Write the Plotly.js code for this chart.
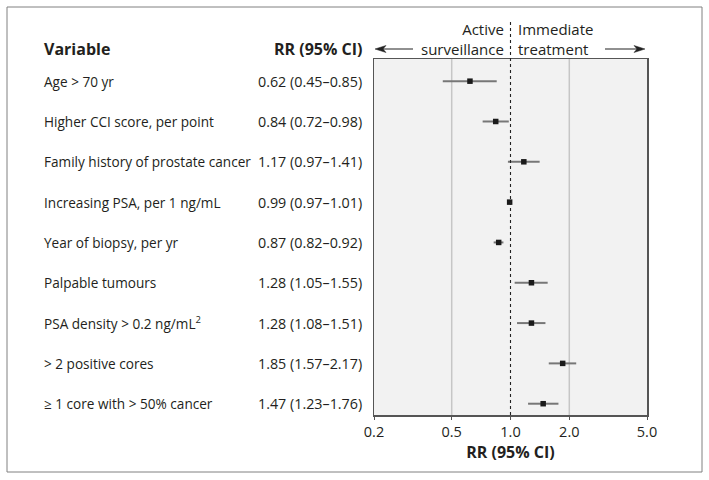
<!DOCTYPE html>
<html>
<head>
<meta charset="utf-8">
<script src="https://cdn.plot.ly/plotly-3.0.1.min.js"></script>
<style>html,body{margin:0;padding:0;background:#fff;}#chart{width:709px;height:480px;}</style>
</head>
<body>
<div id="chart"></div>
<script>
const variables = [
  "Age > 70 yr",
  "Higher CCI score, per point",
  "Family history of prostate cancer",
  "Increasing PSA, per 1 ng/mL",
  "Year of biopsy, per yr",
  "Palpable tumours",
  "PSA density > 0.2 ng/mL<sup>2</sup>",
  "> 2 positive cores",
  "≥ 1 core with > 50% cancer"
];
const rr = [0.62, 0.84, 1.17, 0.99, 0.87, 1.28, 1.28, 1.85, 1.47];
const ciLow = [0.45, 0.72, 0.97, 0.97, 0.82, 1.05, 1.08, 1.57, 1.23];
const ciHigh = [0.85, 0.98, 1.41, 1.01, 0.92, 1.55, 1.51, 2.17, 1.76];
const tickVals = [0.2, 0.5, 1.0, 2.0, 5.0];
const tickText = ["0.2", "0.5", "1.0", "2.0", "5.0"];
const gridVals = [0.5, 2.0];
const refValue = 1.0;

const W = 709, H = 480;
const L = 374, R = 647, T = 59, B = 415;
const px = x => (x - L) / (R - L);
const py = y => 1 - (y - T) / (B - T);

const rows = variables.map((v, i) => i);
const FONT = "Open Sans, Noto Sans, sans-serif";
const txtColor = "#231f20";

const trace = {
  type: "scatter",
  mode: "markers",
  x: rr,
  y: rows,
  marker: {symbol: "square", size: 5.5, color: "#1a1a1a"},
  error_x: {
    type: "data", symmetric: false,
    array: rr.map((v, i) => ciHigh[i] - v),
    arrayminus: rr.map((v, i) => v - ciLow[i]),
    color: "#777777", thickness: 2, width: 0
  },
  hoverinfo: "skip",
  showlegend: false
};

const annotations = [];
variables.forEach((v, i) => {
  annotations.push({xref: "paper", yref: "y", x: px(41.5), y: i, text: v, showarrow: false,
    xanchor: "left", yanchor: "middle", font: {family: FONT, size: 13.6, color: txtColor}});
  const lab = rr[i].toFixed(2) + " (" + ciLow[i].toFixed(2) + "–" + ciHigh[i].toFixed(2) + ")";
  annotations.push({xref: "paper", yref: "y", x: px(364), y: i, text: lab, showarrow: false,
    xanchor: "right", yanchor: "middle", font: {family: FONT, size: 14.3, color: txtColor}});
});
annotations.push({xref: "paper", yref: "paper", x: px(41.5), y: py(49), text: "<b>Variable</b>",
  showarrow: false, xanchor: "left", yanchor: "middle", font: {family: FONT, size: 16, color: txtColor}});
annotations.push({xref: "paper", yref: "paper", x: px(364), y: py(49), text: "<b>RR (95% CI)</b>",
  showarrow: false, xanchor: "right", yanchor: "middle", font: {family: FONT, size: 16, color: txtColor}});
annotations.push({xref: "paper", yref: "paper", x: px(506), y: py(39), text: "Active<br>surveillance",
  showarrow: false, xanchor: "right", yanchor: "middle", align: "right",
  font: {family: FONT, size: 15, color: txtColor}});
annotations.push({xref: "paper", yref: "paper", x: px(516), y: py(39), text: "Immediate<br>treatment",
  showarrow: false, xanchor: "left", yanchor: "middle", align: "left",
  font: {family: FONT, size: 15, color: txtColor}});

const shapes = [];
gridVals.forEach(g => shapes.push({type: "line", xref: "x", yref: "paper", x0: g, x1: g, y0: 0, y1: 1,
  line: {color: "#c6c6c6", width: 1.5}, layer: "below"}));
shapes.push({type: "line", xref: "x", yref: "paper", x0: refValue, x1: refValue, y0: 0, y1: py(22),
  line: {color: "#222", width: 1.1, dash: "3px,3px"}});
shapes.push({type: "rect", xref: "paper", yref: "paper", x0: px(7), x1: px(702), y0: py(7), y1: py(472),
  line: {color: "#808080", width: 1}, fillcolor: "rgba(0,0,0,0)"});
// arrows: shafts and heads
const arrowY = 49;
shapes.push({type: "line", xref: "paper", yref: "paper", x0: px(380), x1: px(413), y0: py(arrowY), y1: py(arrowY),
  line: {color: "#222", width: 1.2}});
shapes.push({type: "path", xref: "paper", yref: "paper",
  path: `M ${px(375)} ${py(arrowY)} L ${px(386)} ${py(arrowY - 3.5)} L ${px(383)} ${py(arrowY)} L ${px(386)} ${py(arrowY + 3.5)} Z`,
  fillcolor: "#222", line: {color: "#222", width: 0.5}});
shapes.push({type: "line", xref: "paper", yref: "paper", x0: px(605), x1: px(640), y0: py(arrowY), y1: py(arrowY),
  line: {color: "#222", width: 1.2}});
shapes.push({type: "path", xref: "paper", yref: "paper",
  path: `M ${px(645)} ${py(arrowY)} L ${px(634)} ${py(arrowY - 3.5)} L ${px(637)} ${py(arrowY)} L ${px(634)} ${py(arrowY + 3.5)} Z`,
  fillcolor: "#222", line: {color: "#222", width: 0.5}});

const layout = {
  width: W, height: H,
  margin: {l: L, r: W - R, t: T, b: H - B, pad: 0},
  paper_bgcolor: "#fff",
  plot_bgcolor: "#f2f2f2",
  xaxis: {
    type: "log", range: [Math.log10(0.2), Math.log10(5)],
    tickvals: tickVals, ticktext: tickText,
    showgrid: false, zeroline: false,
    showline: true, mirror: true, linecolor: "#555", linewidth: 1.5,
    ticks: "outside", ticklen: 3, tickcolor: "#555",
    tickfont: {family: FONT, size: 14.5, color: txtColor},
    title: {text: "<b>RR (95% CI)</b>", font: {family: FONT, size: 16, color: txtColor}, standoff: 4}
  },
  yaxis: {
    range: [8.28, -0.55], showticklabels: false, showgrid: false, zeroline: false,
    showline: true, mirror: true, linecolor: "#555", linewidth: 1.5, ticks: ""
  },
  annotations: annotations,
  shapes: shapes
};

Plotly.newPlot("chart", [trace], layout, {displayModeBar: false, staticPlot: true});
</script>
</body>
</html>
